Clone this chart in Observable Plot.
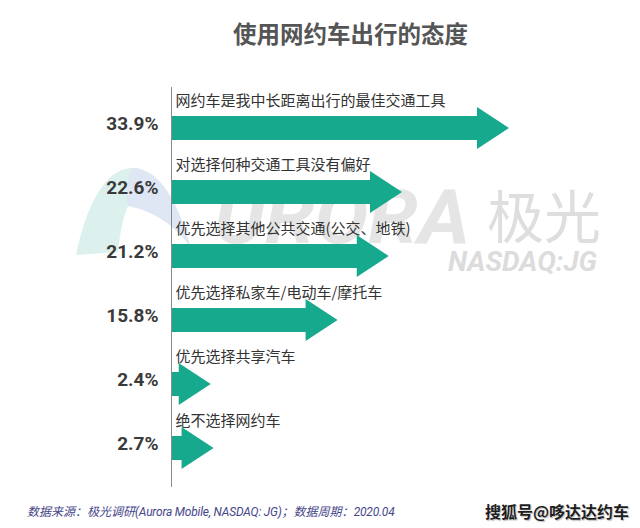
<!DOCTYPE html>
<html>
<head>
<meta charset="utf-8">
<script src="https://cdn.jsdelivr.net/npm/d3@7"></script>
<script src="https://cdn.jsdelivr.net/npm/@observablehq/plot@0.6"></script>
<style>
  body { margin: 0; background: #fff; }
  #wrap { position: relative; width: 640px; height: 528px; overflow: hidden; background: #fff;
          font-family: "Noto Sans CJK SC", Roboto, sans-serif; }
  #bg { position: absolute; left: 0; top: 0; }
  #title { position: absolute; left: 233px; top: 20px; font-size: 23.5px; line-height: 26px;
           font-weight: bold; color: #555; white-space: nowrap; }
  #chart { position: absolute; left: 0; top: 60px; }
  #source { position: absolute; left: 27px; top: 502px; font-size: 12px; line-height: 18px;
            font-style: italic; color: #46468a; white-space: nowrap; }
  #source .lat { font-family: Roboto, sans-serif; letter-spacing: -0.2px; }
  #sohu { position: absolute; left: 485px; top: 500px; font-size: 16px; line-height: 22px; font-weight: bold;
          color: #1e1e1e; white-space: nowrap; text-shadow: 0 0 2px #fff, 1px 1px 1px #aaa; }
</style>
</head>
<body>
<div id="wrap">
  <svg id="bg" width="640" height="528">
    <path d="M76,255 C86,205 106,168 132,168 C158,168 178,200 190,246 C172,222 150,210 128,206 C122,220 120,235 118,252 Z" fill="#d8efec" opacity="0.9"/>
    <path d="M132,168 C158,168 178,200 190,246 C172,222 150,210 128,206 C126,190 128,178 132,168 Z" fill="#dfe5f5" opacity="0.9"/>
    <text x="214" y="243" font-family="Roboto, sans-serif" font-weight="bold" font-style="italic" font-size="76" fill="#e5e5e5" textLength="256" lengthAdjust="spacingAndGlyphs">URORA</text>
    <text x="487" y="238" font-family="Noto Sans CJK SC, sans-serif" font-weight="400" font-size="57" fill="#dedede">极光</text>
    <text x="448" y="271" font-family="Roboto, sans-serif" font-weight="bold" font-style="italic" font-size="27" fill="#dcdcdc" textLength="149" lengthAdjust="spacingAndGlyphs">NASDAQ:JG</text>
  </svg>
  <div id="title">使用网约车出行的态度</div>
  <div id="chart"></div>
  <div id="source">数据来源：极光调研<span class="lat">(Aurora Mobile, NASDAQ: JG)</span>；数据周期：<span class="lat">2020.04</span></div>
  <div id="sohu">搜狐号@哆达达约车</div>
</div>
<script>
const categories = [
  "网约车是我中长距离出行的最佳交通工具",
  "对选择何种交通工具没有偏好",
  "优先选择其他公共交通(公交、地铁)",
  "优先选择私家车/电动车/摩托车",
  "优先选择共享汽车",
  "绝不选择网约车"
];
const values = [33.9, 22.6, 21.2, 15.8, 2.4, 2.7];
const valueLabels = ["33.9%", "22.6%", "21.2%", "15.8%", "2.4%", "2.7%"];

const data = categories.map((c, i) => ({category: c, value: values[i], label: valueLabels[i]}));

const arrowColor = "#17a98d";

function arrows(index, scales, channels, dimensions) {
  const g = d3.create("svg:g");
  const x0 = dimensions.marginLeft;
  const head = 32, hh = 21, sh = 12;
  for (const d of data) {
    const xt = scales.x(d.value);
    const yc = scales.y(d.category);
    const xb = Math.max(x0 + 2, xt - head);
    g.append("path")
      .attr("d", `M${x0},${yc - sh}H${xb}V${yc - hh}L${xt},${yc}L${xb},${yc + hh}V${yc + sh}H${x0}Z`)
      .attr("fill", arrowColor);
  }
  g.append("line")
    .attr("x1", x0 + 0.5).attr("x2", x0 + 0.5)
    .attr("y1", dimensions.marginTop)
    .attr("y2", dimensions.height - dimensions.marginBottom)
    .attr("stroke", "#8a8a8a").attr("stroke-width", 1);
  return g.node();
}

const chart = Plot.plot({
  width: 640,
  height: 430,
  marginLeft: 171,
  marginRight: 20,
  marginTop: 27,
  marginBottom: 3,
  style: {background: "transparent", overflow: "visible"},
  x: {domain: [0, 33.9], range: [188, 509], axis: null},
  y: {type: "point", domain: categories, range: [67, 389], padding: 0, axis: null},
  marks: [
    arrows,
    Plot.text(data, {
      y: "category", frameAnchor: "left", text: "category",
      textAnchor: "start", dx: 4, dy: -27,
      fontSize: 15, fill: "#333", fontFamily: "Noto Sans CJK SC, sans-serif"
    }),
    Plot.text(data, {
      y: "category", frameAnchor: "left", text: "label",
      textAnchor: "end", dx: -13, dy: -5,
      fontSize: 19, fontWeight: "bold", fill: "#3a3a3a", fontFamily: "Roboto, sans-serif"
    })
  ]
});
document.getElementById("chart").appendChild(chart);
</script>
</body>
</html>
